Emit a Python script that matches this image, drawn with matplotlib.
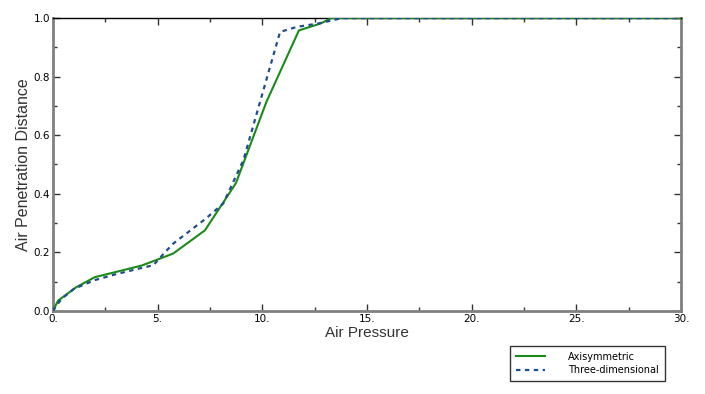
import numpy as np
import matplotlib.pyplot as plt
from matplotlib.ticker import MultipleLocator

# Axisymmetric (green solid)
x_axi = [0.0, 0.25, 1.1, 2.0, 4.25, 4.95, 5.75, 7.26, 8.74, 10.2, 11.75, 12.8, 13.3, 15.0, 20.0, 25.0, 30.0]
y_axi = [0.0, 0.035, 0.08, 0.115, 0.155, 0.174, 0.196, 0.275, 0.436, 0.714, 0.958, 0.982, 1.0, 1.0, 1.0, 1.0, 1.0]

# Three-dimensional (blue dashed)
x_3d = [0.0, 0.4, 1.0, 2.0, 3.0, 4.2, 4.8, 5.35, 5.75, 7.3, 8.14, 9.1, 10.85, 11.65, 12.7, 13.8, 15.0, 20.0, 25.0, 30.0]
y_3d = [0.0, 0.04, 0.075, 0.105, 0.125, 0.146, 0.156, 0.20, 0.23, 0.315, 0.367, 0.515, 0.953, 0.97, 0.982, 1.0, 1.0, 1.0, 1.0, 1.0]

xticks = [0, 5, 10, 15, 20, 25, 30]
xticklabels = ['0.', '5.', '10.', '15.', '20.', '25.', '30.']
yticks = [0.0, 0.2, 0.4, 0.6, 0.8, 1.0]
yticklabels = ['0.0', '0.2', '0.4', '0.6', '0.8', '1.0']

fig = plt.figure(figsize=(7.05, 3.94), dpi=100)
ax = fig.add_axes([0.075, 0.211, 0.891, 0.743])

ax.plot(x_axi, y_axi, color='#1a8a1a', lw=1.5, label='Axisymmetric', zorder=3)
ax.plot(x_3d, y_3d, color='#1f4e8c', lw=1.6, ls=(0, (2, 2)), label='Three-dimensional', zorder=4)

ax.set_xlim(0, 30)
ax.set_ylim(0, 1)
ax.set_xticks(xticks)
ax.set_xticklabels(xticklabels)
ax.set_yticks(yticks)
ax.set_yticklabels(yticklabels)
ax.xaxis.set_minor_locator(MultipleLocator(2.5))
ax.yaxis.set_minor_locator(MultipleLocator(0.1))
ax.tick_params(which='both', direction='in', top=True, right=True, labelsize=7.5, pad=2, colors='#333333', labelcolor='black')
ax.tick_params(which='major', length=5, width=1)
ax.tick_params(which='minor', length=3, width=1)

for s in ['left', 'bottom', 'right']:
    ax.spines[s].set_color('#808080')
    ax.spines[s].set_linewidth(2)
ax.spines['top'].set_color('black')
ax.spines['top'].set_linewidth(1)

ax.set_xlabel('Air Pressure', fontsize=11, family='Liberation Sans', color='#333333', labelpad=2)
ax.set_ylabel('Air Penetration Distance', fontsize=11.5, family='Liberation Sans', color='#333333', labelpad=2)

leg = fig.legend(loc='upper left', bbox_to_anchor=(510/705, 1 - 346/394),
                 fontsize=7, frameon=True, fancybox=False, handlelength=3.0,
                 handletextpad=2.4, borderpad=0.6, borderaxespad=0, labelspacing=0.35)
leg.get_frame().set_edgecolor('black')
leg.get_frame().set_linewidth(1)

fig.savefig('out.png', dpi=100)
